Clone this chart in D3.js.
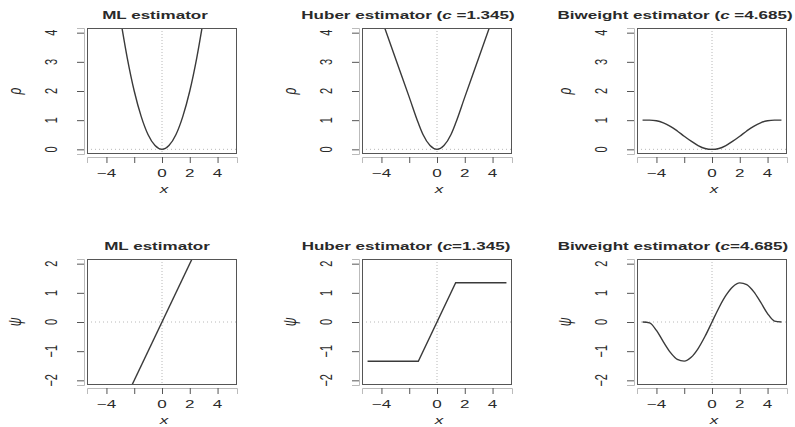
<!DOCTYPE html>
<html>
<head>
<meta charset="utf-8">
<script src="https://cdn.jsdelivr.net/npm/d3@7"></script>
<style>
  body { margin: 0; background: #fff; }
  text { font-family: "Liberation Sans", Arial, sans-serif; fill: #2a2a2a; }
</style>
</head>
<body>
<div id="chart"></div>
<script>
// values
var xGrid = [-5, -4.5, -4, -3.5, -3, -2.5, -2, -1.5, -1, -0.5, 0, 0.5, 1, 1.5, 2, 2.5, 3, 3.5, 4, 4.5, 5];

var mlRhoX = [-3, -2.5, -2, -1.5, -1, -0.5, 0, 0.5, 1, 1.5, 2, 2.5, 3];
var mlRhoY = [4.5, 3.13, 2, 1.13, 0.5, 0.13, 0, 0.13, 0.5, 1.13, 2, 3.13, 4.5];

var huberRhoX = [-4, -3, -2, -1.345, -1, -0.5, 0, 0.5, 1, 1.345, 2, 3, 4];
var huberRhoY = [4.48, 3.13, 1.79, 0.9, 0.5, 0.13, 0, 0.13, 0.5, 0.9, 1.79, 3.13, 4.48];

var biweightRhoY = [1, 1, 0.98, 0.91, 0.79, 0.63, 0.45, 0.28, 0.13, 0.03, 0, 0.03, 0.13, 0.28, 0.45, 0.63, 0.79, 0.91, 0.98, 1, 1];

var mlPsiX = [-2.2, 2.2];
var mlPsiY = [-2.2, 2.2];

var huberPsiX = [-5, -1.345, 1.345, 5];
var huberPsiY = [-1.345, -1.345, 1.345, 1.345];

var biweightPsiY = [0, -0.03, -0.29, -0.68, -1.04, -1.28, -1.34, -1.21, -0.91, -0.49, 0, 0.49, 0.91, 1.21, 1.34, 1.28, 1.04, 0.68, 0.29, 0.03, 0];

var xTicks = [-4, -2, 0, 2, 4];
var xTickLabels = ["\u22124", "", "0", "2", "4"];
var rhoTicks = [0, 1, 2, 3, 4];
var psiTicks = [-2, -1, 0, 1, 2];
var psiTickLabels = ["\u22122", "\u22121", "0", "1", "2"];

var titles = [
    ["ML estimator", null, null],
    ["Huber estimator (", "c", " =1.345)"],
    ["Biweight estimator (", "c", " =4.685)"],
    ["ML estimator", null, null],
    ["Huber estimator (", "c", "=1.345)"],
    ["Biweight estimator (", "c", "=4.685)"]
];

// layout
var W = 795, H = 427;
var boxLeft = [87, 362, 637], boxW = 150;
var boxTop = [28, 259], boxH = 126;
var titleX = [155, 408, 675, 157, 406, 673];
var stretch = 1.55; // text in the picture is wide

function zip(xs, ys) {
    return xs.map(function(x, i) { return [x, ys[i]]; });
}

var panels = [
    { pts: zip(mlRhoX, mlRhoY), row: 0, curve: d3.curveMonotoneX },
    { pts: zip(huberRhoX, huberRhoY), row: 0, curve: d3.curveMonotoneX },
    { pts: zip(xGrid, biweightRhoY), row: 0, curve: d3.curveMonotoneX },
    { pts: zip(mlPsiX, mlPsiY), row: 1, curve: d3.curveLinear },
    { pts: zip(huberPsiX, huberPsiY), row: 1, curve: d3.curveLinear },
    { pts: zip(xGrid, biweightPsiY), row: 1, curve: d3.curveMonotoneX }
];

var svg = d3.select("#chart").append("svg")
    .attr("width", W)
    .attr("height", H);

var defs = svg.append("defs");

function wideText(g, x, y, rot) {
    return g.append("text")
        .attr("transform", "translate(" + x + "," + y + ") scale(" + stretch + ",1)" + (rot ? " rotate(-90)" : ""))
        .attr("text-anchor", "middle");
}

panels.forEach(function(p, i) {
    var col = i % 3;
    var left = boxLeft[col], top = boxTop[p.row];

    var x = d3.scaleLinear().domain([-5.4, 5.4]).range([left, left + boxW]);
    var y = p.row == 0
        ? d3.scaleLinear().domain([-0.16, 4.16]).range([top + boxH, top])
        : d3.scaleLinear().domain([-2.16, 2.16]).range([top + boxH, top]);

    var g = svg.append("g");

    defs.append("clipPath").attr("id", "clip" + i)
        .append("rect")
        .attr("x", left).attr("y", top)
        .attr("width", boxW).attr("height", boxH);

    // reference lines at 0
    g.append("line")
        .attr("x1", x(0)).attr("x2", x(0))
        .attr("y1", top).attr("y2", top + boxH)
        .attr("stroke", "#b8b8b8").attr("stroke-width", 1)
        .attr("stroke-dasharray", "1,2");
    g.append("line")
        .attr("x1", left).attr("x2", left + boxW)
        .attr("y1", y(0)).attr("y2", y(0))
        .attr("stroke", "#b8b8b8").attr("stroke-width", 1)
        .attr("stroke-dasharray", "1,3");

    // curve
    var line = d3.line()
        .x(function(d) { return x(d[0]); })
        .y(function(d) { return y(d[1]); })
        .curve(p.curve);
    g.append("path")
        .datum(p.pts)
        .attr("clip-path", "url(#clip" + i + ")")
        .attr("d", line)
        .attr("fill", "none")
        .attr("stroke", "#3a3a3a")
        .attr("stroke-width", 1.4);

    // box
    g.append("rect")
        .attr("x", left + 0.5).attr("y", top + 0.5)
        .attr("width", boxW - 1).attr("height", boxH - 1)
        .attr("fill", "none")
        .attr("stroke", "#555").attr("stroke-width", 1);

    // x axis, offset a little from the box
    var xAxis = g.append("g")
        .attr("transform", "translate(0," + (top + boxH + 3) + ")")
        .call(d3.axisBottom(x).tickValues(xTicks).tickSize(6).tickFormat(""));
    xAxis.select(".domain").attr("stroke", "#bbb");
    xAxis.selectAll(".tick line").attr("stroke", "#555");
    xTicks.forEach(function(t, k) {
        if (xTickLabels[k] == "") return;
        wideText(g, x(t), top + boxH + 23, false)
            .attr("font-size", 11)
            .text(xTickLabels[k]);
    });

    // y axis
    var yTicks = p.row == 0 ? rhoTicks : psiTicks;
    var yLabels = p.row == 0 ? rhoTicks.map(String) : psiTickLabels;
    var yAxis = g.append("g")
        .attr("transform", "translate(" + (left - 3) + ",0)")
        .call(d3.axisLeft(y).tickValues(yTicks).tickSize(7).tickFormat(""));
    yAxis.select(".domain").attr("stroke", "#bbb");
    yAxis.selectAll(".tick line").attr("stroke", "#555");
    yTicks.forEach(function(t, k) {
        wideText(g, left - 30, y(t), true)
            .attr("font-size", 11)
            .text(yLabels[k]);
    });

    // axis titles
    wideText(g, x(0) + 2, top + boxH + 39, false)
        .attr("font-size", 11).attr("font-style", "italic")
        .text("x");
    wideText(g, left - 66, top + boxH / 2, true)
        .attr("font-size", 12).attr("font-style", "italic")
        .text(p.row == 0 ? "\u03c1" : "\u03c8");

    // panel title
    var tt = wideText(g, titleX[i], top - 9, false)
        .attr("font-size", 11).attr("font-weight", "bold");
    tt.append("tspan").text(titles[i][0]);
    if (titles[i][1]) {
        tt.append("tspan").attr("font-style", "italic").text(titles[i][1]);
        tt.append("tspan").text(titles[i][2]);
    }
});
</script>
</body>
</html>
